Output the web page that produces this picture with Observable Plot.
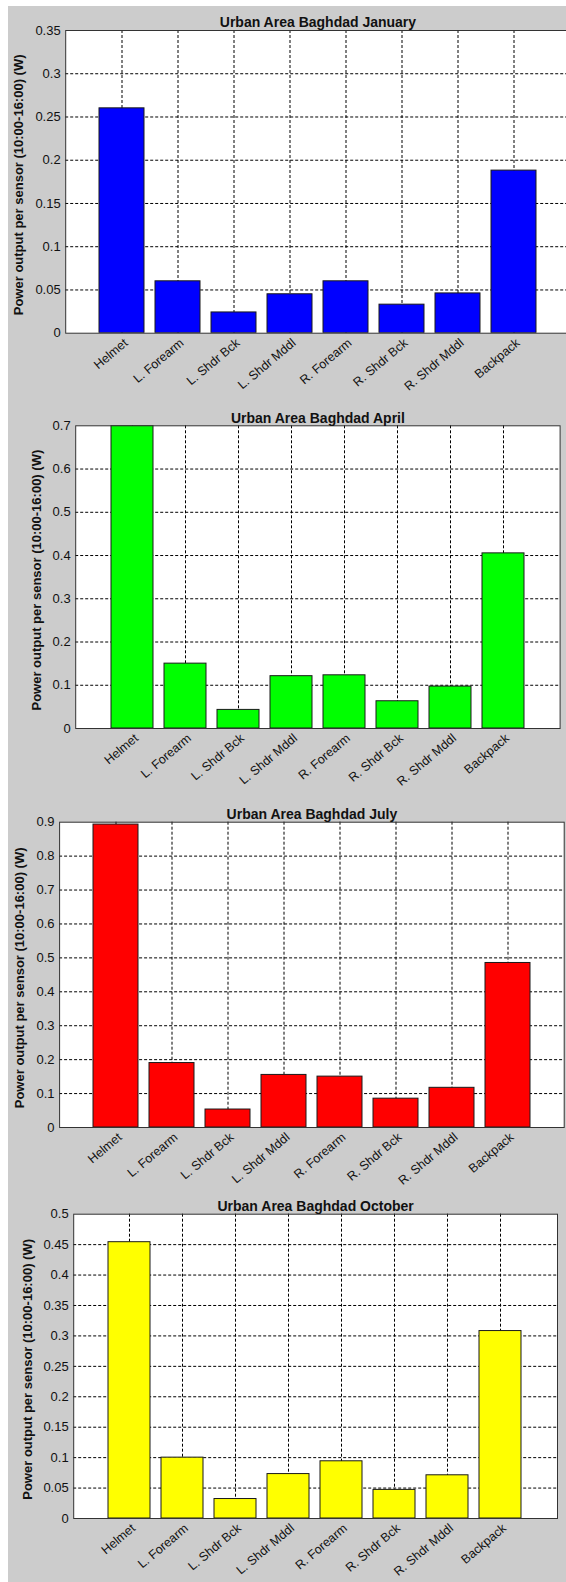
<!DOCTYPE html>
<html><head><meta charset="utf-8">
<script src="https://cdn.jsdelivr.net/npm/d3@7"></script>
<script src="https://cdn.jsdelivr.net/npm/@observablehq/plot@0.6"></script>
<style>
html,body{margin:0;padding:0;background:#fff;}
#wrap{position:relative;width:566px;height:1582px;overflow:hidden;background:#fff;}
#bg{position:absolute;left:8px;top:6px;right:0;bottom:0;background:#cccccc;}
</style></head><body><div id="wrap"><div id="bg"></div></div>
<script>
// ---- data ----
const categories = ["Helmet", "L. Forearm", "L. Shdr Bck", "L. Shdr Mddl", "R. Forearm", "R. Shdr Bck", "R. Shdr Mddl", "Backpack"];
const januaryValues = [0.260, 0.060, 0.024, 0.045, 0.060, 0.033, 0.046, 0.188];
const aprilValues   = [0.700, 0.150, 0.043, 0.121, 0.123, 0.063, 0.097, 0.405];
const julyValues    = [0.893, 0.190, 0.053, 0.155, 0.150, 0.085, 0.117, 0.485];
const octoberValues = [0.454, 0.100, 0.032, 0.073, 0.094, 0.047, 0.071, 0.308];
const januaryTicks = [0, 0.05, 0.1, 0.15, 0.2, 0.25, 0.3, 0.35];
const aprilTicks   = [0, 0.1, 0.2, 0.3, 0.4, 0.5, 0.6, 0.7];
const julyTicks    = [0, 0.1, 0.2, 0.3, 0.4, 0.5, 0.6, 0.7, 0.8, 0.9];
const octoberTicks = [0, 0.05, 0.1, 0.15, 0.2, 0.25, 0.3, 0.35, 0.4, 0.45, 0.5];
const titles = ["Urban Area Baghdad January", "Urban Area Baghdad April", "Urban Area Baghdad July", "Urban Area Baghdad October"];
const yLabel = "Power output per sensor (10:00-16:00) (W)";
const seriesValues = [januaryValues, aprilValues, julyValues, octoberValues];
const seriesTicks = [januaryTicks, aprilTicks, julyTicks, octoberTicks];

// ---- presentation ----
const colors = ["#0000ff", "#00ff00", "#ff0000", "#ffff00"];
const layouts = [
  {top: 6,    height: 390, mt: 24,   mb: 63.3, ml: 57.2, width: 562, mr: 0.3, dx: -47},
  {top: 396,  height: 394, mt: 29.3, mb: 62,   ml: 67.2, width: 558, mr: 6.4, dx: -39},
  {top: 790,  height: 392, mt: 31.7, mb: 55,   ml: 51.1, width: 558, mr: 2.3, dx: -40},
  {top: 1182, height: 400, mt: 31.7, mb: 64,   ml: 65.2, width: 558, mr: 9,   dx: -46}
];
const font = "'Liberation Sans', Arial, Helvetica, sans-serif";
const wrap = document.getElementById("wrap");

seriesValues.forEach((values, k) => {
  const L = layouts[k];
  const ticks = seriesTicks[k];
  const data = categories.map((c, i) => ({c, v: values[i]}));
  const svg = Plot.plot({
    width: L.width, height: L.height,
    marginTop: L.mt, marginBottom: L.mb, marginLeft: L.ml, marginRight: L.mr,
    style: {background: "transparent", fontFamily: font, fontSize: "13px", color: "#000", overflow: "visible"},
    x: {domain: categories, paddingInner: 0.2, paddingOuter: 0.6, label: null, axis: null},
    y: {domain: [0, ticks[ticks.length - 1]], label: null, axis: null},
    marks: [
      Plot.frame({fill: "white", stroke: "none"}),
      Plot.ruleY(ticks.slice(1, -1), {stroke: "#000", strokeDasharray: "3,2", strokeWidth: 1}),
      Plot.ruleX(categories, {stroke: "#000", strokeDasharray: "3,2", strokeWidth: 1}),
      Plot.barY(data, {x: "c", y: "v", fill: colors[k], stroke: "#1a1a1a", strokeWidth: 1, clip: true}),
      Plot.frame({stroke: "#333", strokeWidth: 1}),
      Plot.axisX({tickRotate: -40, tickSize: 0, tickPadding: 8, dx: 4, label: null, fontSize: 12.5, fill: "#111"}),
      Plot.axisY({ticks: ticks, tickFormat: d => String(+d.toFixed(2)), tickSize: 0, tickPadding: 5, label: null, fontSize: 13, fill: "#111"}),
      Plot.text([titles[k]], {text: d => d, frameAnchor: "top", dy: -13, fontWeight: "bold", fontSize: 14, fill: "#111"}),
      Plot.text([yLabel], {text: d => d, frameAnchor: "left", textAnchor: "middle", rotate: -90, dx: L.dx, dy: 3, fontWeight: "bold", fontSize: 13, fill: "#111"})
    ]
  });
  svg.style.position = "absolute";
  svg.style.left = "8px";
  svg.style.top = L.top + "px";
  wrap.appendChild(svg);
});
</script></body></html>
